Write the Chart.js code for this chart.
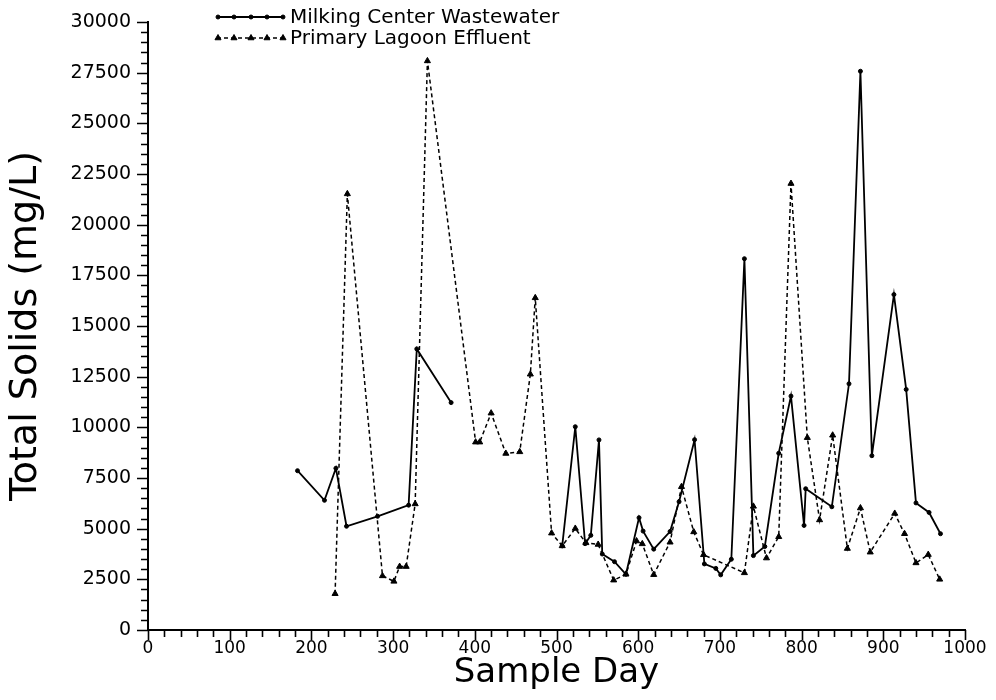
<!DOCTYPE html>
<html>
<head>
<meta charset="utf-8">
<title>Total Solids</title>
<script src="https://cdn.jsdelivr.net/npm/chart.js@4.4.1/dist/chart.umd.min.js"></script>
<style>
  html, body { margin: 0; padding: 0; background: #fff; }
  #chart { display: block; }
</style>
</head>
<body>
<canvas id="chart" width="996" height="700"></canvas>
<script>
// sample days and total solids (mg/L); null = break in the line
const milkDays = [183, 216, 230, 243, 281, 319, 329, 371, 440, 507, 523, 535, 542, 552, 556, 571, 585,
  601, 606, 619, 639, 650, 669, 681, 695, 701, 714, 730, 741, 755, 772, 787, 803, 805, 837,
  858, 872, 886, 913, 928, 940, 956, 970];
const milkTS = [7860, 6400, 7980, 5120, 5610, 6160, 13870, 11220, null, 4150, 10030, 4260, 4670, 9380, 3750, 3370, 2750,
  5540, 4880, 3990, 4860, 6330, 9390, 3260, 3040, 2720, 3490, 18320, 3670, 4120, 8720, 11540, 5160, 6970, 6080,
  12150, 27570, 8600, 16550, 11870, 6270, 5800, 4750];

const lagoonDays = [229, 244, 287, 301, 308, 316, 327, 342, 401, 406, 420, 438, 455, 468, 474,
  494, 507, 523, 536, 551, 570, 585, 598, 605, 619, 639, 653, 668, 680,
  730, 741, 757, 772, 787, 807, 822, 838, 856, 872, 884, 914, 926, 940, 955, 969];
const lagoonTS = [1790, 21520, 2670, 2400, 3130, 3130, 6220, 28080, 9270, 9270, 10700, 8710, 8790, 12620, 16390,
  4780, 4150, 5010, 4300, 4220, 2460, 2750, 4390, 4250, 2730, 4330, 7070, 4840, 3710,
  2820, 6100, 3550, 4600, 22030, 9490, 5430, 9610, 4020, 6020, 3840, 5750, 4750, 3310, 3720, 2500];

const seriesNames = ['Milking Center Wastewater', 'Primary Lagoon Effluent'];

const FONT = '"DejaVu Sans", "Liberation Sans", sans-serif';

function toPoints(days, vals) {
  return days.map((d, i) => ({ x: d, y: vals[i] }));
}

// legend drawn in the upper left corner, two rows, like the original
const cornerLegend = {
  id: 'cornerLegend',
  afterDraw(chart) {
    const ctx = chart.ctx;
    chart.data.datasets.forEach((ds, i) => {
      const y = 17 + i * 21;
      ctx.save();
      ctx.strokeStyle = '#000';
      ctx.fillStyle = '#000';
      ctx.lineWidth = ds.borderWidth;
      ctx.setLineDash(ds.borderDash || []);
      ctx.beginPath();
      ctx.moveTo(217, y);
      ctx.lineTo(284, y);
      ctx.stroke();
      ctx.setLineDash([]);
      ctx.lineWidth = 1;
      [218, 234, 251, 267, 283].forEach(x => {
        Chart.helpers.drawPoint(ctx, { pointStyle: ds.pointStyle, radius: ds.pointRadius, borderWidth: 1 }, x, y);
      });
      ctx.font = '20px ' + FONT;
      ctx.textBaseline = 'middle';
      ctx.fillText(ds.label, 290, y + 1);
      ctx.restore();
    });
  }
};

// outward tick marks, long at labelled values and short in between
const axisTicks = {
  id: 'axisTicks',
  afterDraw(chart) {
    const { ctx, chartArea } = chart;
    const x = chart.scales.x, y = chart.scales.y;
    ctx.save();
    ctx.strokeStyle = '#000';
    ctx.lineWidth = 1.6;
    ctx.beginPath();
    y.ticks.forEach(t => {
      const py = Math.round(y.getPixelForValue(t.value)) + 0.5;
      const len = t.value % 2500 === 0 ? 11 : 7;
      ctx.moveTo(chartArea.left, py);
      ctx.lineTo(chartArea.left - len, py);
    });
    x.ticks.forEach(t => {
      const px = Math.round(x.getPixelForValue(t.value)) + 0.5;
      const len = t.value % 100 === 0 ? 10 : 7;
      ctx.moveTo(px, chartArea.bottom);
      ctx.lineTo(px, chartArea.bottom + len);
    });
    ctx.stroke();
    ctx.restore();
  }
};

new Chart(document.getElementById('chart').getContext('2d'), {
  type: 'line',
  data: {
    datasets: [
      {
        label: seriesNames[0],
        data: toPoints(milkDays, milkTS),
        borderColor: '#000',
        backgroundColor: '#000',
        borderWidth: 1.8,
        pointStyle: 'circle',
        pointRadius: 2,
        pointBorderWidth: 1,
        tension: 0,
        spanGaps: false
      },
      {
        label: seriesNames[1],
        data: toPoints(lagoonDays, lagoonTS),
        borderColor: '#000',
        backgroundColor: '#000',
        borderWidth: 1.5,
        borderDash: [4, 3],
        pointStyle: 'triangle',
        pointRadius: 3.5,
        pointBorderWidth: 1,
        tension: 0
      }
    ]
  },
  options: {
    responsive: false,
    animation: false,
    devicePixelRatio: 1,
    layout: { padding: { top: 22, right: 31, left: 0, bottom: 0 } },
    plugins: {
      legend: { display: false },
      tooltip: { enabled: false }
    },
    scales: {
      x: {
        type: 'linear',
        min: 0,
        max: 1000,
        afterFit(scale) { scale.height = 70; },
        border: { display: true, color: '#000', width: 2 },
        grid: {
          drawOnChartArea: false,
          drawTicks: true,
          tickLength: 8,
          tickColor: 'rgba(0,0,0,0)'
        },
        ticks: {
          stepSize: 20,
          autoSkip: false,
          maxRotation: 0,
          padding: 0,
          color: '#000',
          font: { family: FONT, size: 17 },
          callback: v => (v % 100 === 0 ? v : '')
        },
        title: {
          display: true,
          text: 'Sample Day',
          color: '#000',
          font: { family: FONT, size: 34 },
          padding: { top: 0, bottom: 6 }
        }
      },
      y: {
        min: 0,
        max: 30000,
        afterFit(scale) { scale.width = 148; },
        border: { display: true, color: '#000', width: 2 },
        grid: {
          drawOnChartArea: false,
          drawTicks: true,
          tickLength: 10,
          tickColor: 'rgba(0,0,0,0)'
        },
        ticks: {
          stepSize: 500,
          autoSkip: false,
          padding: 7,
          color: '#000',
          font: { family: FONT, size: 19 },
          callback: v => (v % 2500 === 0 ? v : '')
        },
        title: {
          display: true,
          text: 'Total Solids (mg/L)',
          color: '#000',
          font: { family: FONT, size: 38 },
          padding: { top: 3, bottom: 0 }
        }
      }
    }
  },
  plugins: [cornerLegend, axisTicks]
});
</script>
</body>
</html>
